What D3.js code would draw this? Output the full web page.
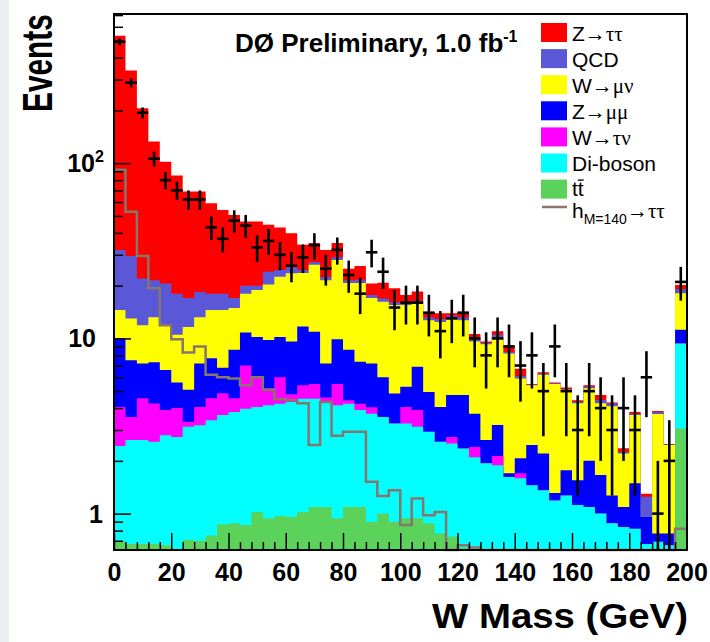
<!DOCTYPE html>
<html>
<head>
<meta charset="utf-8">
<script src="https://cdn.jsdelivr.net/npm/d3@7"></script>
<style>
  body { margin: 0; background: #fff; }
  svg { display: block; font-family: "Liberation Sans", Arial, Helvetica, sans-serif; }
</style>
</head>
<body>
<script>
// 4 GeV bins from 0 to 200, last bin holds the overflow
const binWidth = 4;
const binLow = d3.range(0, 200, binWidth);

// stacked heights as drawn (each one is the top of that colour)
const zttTop = [534, 338, 206, 133, 102, 85, 69, 69, 59, 54,
    50.6, 46.5, 46.5, 44.5, 43, 39.8, 34.2, 35, 31.9, 35,
    25, 25.9, 20.6, 20.8, 19.3, 17.7, 18.5, 14.2, 13.9, 13.9,
    14.2, 10.6, 9.6, 11.0, 9.0, 6.7, 5.5, 6.4, 5.6, 5.25,
    4.44, 5.4, 4.75, 4.3, 2.36, 3.8, 1.3, 3.85, 2.5, 20.2];
const qcdTop = [32, 29.5, 22, 21.5, 20.6, 18, 17, 18.4, 18, 18,
    17, 20, 20, 24, 24.6, 25.5, 24.6, 27.3, 22.4, 29,
    21.5, 21.6, 17.7, 16.9, 16.1, 16.2, 16.4, 13.2, 12.9, 13.5,
    13.2, 10.0, 9.4, 10.5, 8.4, 6.1, 5.45, 6.3, 5.55, 5.15,
    4.35, 5.3, 4.45, 4.25, 2.25, 3.7, 1.25, 3.8, 2.48, 19.1];
const wmuTop = [14.5, 13, 11.9, 13.2, 11.9, 10.5, 11.6, 13.2, 14.5, 14.5,
    14.9, 18, 18.9, 20.3, 22.5, 23.5, 23.6, 26.3, 21.5, 28,
    20.7, 20.7, 17, 16.2, 15.5, 15.5, 15.8, 12.7, 12.4, 13,
    12.7, 9.6, 9.25, 10.2, 8.2, 5.9, 5.4, 6.2, 5.5, 5.1,
    4.27, 5.2, 4.27, 4.1, 2.2, 3.65, 0.96, 3.7, 2.46, 18.1];
const zmmTop = [10, 7.5, 7.2, 7.3, 6.6, 5.6, 5.1, 7.2, 7.7, 6.8,
    8.6, 10.8, 10.2, 9.8, 10.2, 9.6, 11.7, 10.9, 7.2, 9.9,
    8.6, 7.35, 7.2, 6.0, 4.85, 5.3, 6.9, 4.95, 4.06, 4.75,
    4.75, 3.72, 2.63, 3.2, 1.7, 2.07, 2.46, 2.2, 1.31, 1.77,
    1.55, 2.0, 1.66, 1.27, 1.09, 1.49, 0.96, 0.77, 0.77, 11.2];
const wtauTop = [4.06, 3.56, 4.55, 4.25, 3.9, 4.0, 3.34, 4.06, 4.55, 4.86,
    4.55, 7.0, 6.0, 5.2, 6.0, 4.8, 5.4, 5.5, 4.6, 5.5,
    4.44, 4.24, 4.05, 3.56, 3.27, 4.06, 3.9, 2.93, 2.57, 2.74,
    2.35, 2.4, 1.94, 2.13, 1.62, 1.7, 1.45, 1.36, 1.19, 1.27,
    1.12, 1.09, 1.0, 0.88, 0.84, 0.82, 0.67, 0.69, 0.66, 9.35];
const dibosonTop = [2.43, 2.63, 2.63, 2.57, 2.8, 2.74, 3.13, 3.19, 3.41, 3.65,
    3.8, 3.97, 4.06, 4.16, 4.24, 4.33, 4.53, 4.53, 4.33, 4.16,
    4.24, 3.9, 3.72, 3.56, 3.27, 3.27, 3.13, 2.93, 2.57, 2.51,
    2.35, 2.1, 1.94, 1.89, 1.62, 1.59, 1.45, 1.36, 1.19, 1.27,
    1.12, 1.09, 1.0, 0.88, 0.84, 0.82, 0.67, 0.69, 0.66, 9.35];
const ttbarTop = [0.69, 0.67, 0.67, 0.67, 0.66, 0.63, 0.71, 0.70, 0.75, 0.87,
    0.88, 0.86, 1.02, 0.94, 0.97, 0.96, 1.02, 1.09, 1.09, 0.94,
    1.09, 1.09, 0.90, 1.0, 0.90, 0.94, 0.94, 0.88, 0.77, 0.74,
    0.64, 0.6, 0.6, 0.6, 0.6, 0.6, 0.6, 0.6, 0.6, 0.6,
    0.6, 0.6, 0.6, 0.6, 0.6, 0.6, 0.6, 0.6, 0.6, 3.06];

// signal, not stacked
const higgs = [91.6, 52.8, 29.5, 19.3, 11.9, 9.9, 8.3, 9.0, 6.2, 6.0,
    5.9, 5.4, 6.0, 5.1, 4.5, 4.44, 4.27, 2.46, 4.34, 2.78,
    2.93, 2.93, 1.52, 1.26, 1.36, 0.86, 1.22, 0.98, 1.02, 0.62,
    0.66, 0.64, 0.6, 0.5, 0.5, 0.5, 0.5, 0.5, 0.5, 0.5,
    0.5, 0.5, 0.5, 0.5, 0.5, 0.5, 0.5, 0.5, 0.5, 0.82];

// data counts
const dataCounts = [493, 288, 194, 106, 80, 70, 62, 62, 43, 37,
    47, 44, 33, 36, 30, 26, 29, 34, 25, 32,
    23, 18, 31, 24, 15, 16, 16, 14, 11, 13,
    14, 10, 8, 10, 9, 7, 8, 5, 9, 5,
    3, 5, 4, 3, 4, 3, 6, 1, 2, 21];

const xTickLabels = [0, 20, 40, 60, 80, 100, 120, 140, 160, 180, 200];
const yMajorTicks = [1, 10, 100];

const layers = [
    {label: [["Z", 0], ["\u2192\u03c4\u03c4", 1]], color: "#ff0000", top: zttTop},
    {label: [["QCD", 0]], color: "#5b58d8", top: qcdTop},
    {label: [["W", 0], ["\u2192\u03bc\u03bd", 1]], color: "#ffff00", top: wmuTop},
    {label: [["Z", 0], ["\u2192\u03bc\u03bc", 1]], color: "#0000ff", top: zmmTop},
    {label: [["W", 0], ["\u2192\u03c4\u03bd", 1]], color: "#ff00ff", top: wtauTop},
    {label: [["Di-boson", 0]], color: "#00ffff", top: dibosonTop},
    {label: [["tt", 0]], color: "#5bd35b", top: ttbarTop}
];
const higgsColor = "#86766c";

const W = 710, H = 642;
const plot = {left: 114, right: 687, top: 14, bottom: 550};

const svg = d3.select("body").append("svg")
    .attr("width", W)
    .attr("height", H);

svg.append("rect").attr("width", W).attr("height", H).attr("fill", "#fff");
svg.append("rect").attr("width", 9).attr("height", H).attr("fill", "#eceef1");

const x = d3.scaleLinear().domain([0, 200]).range([plot.left, plot.right - 0.5]);
const y = d3.scaleLog().domain([0.62, 710]).range([plot.bottom, plot.top]).clamp(true);

// step points: one per bin edge, last edge repeats last value
function steps(vals) {
    const pts = binLow.map((lo, i) => [lo, vals[i]]);
    pts.push([200, vals[vals.length - 1]]);
    return pts;
}

const area = d3.area()
    .x(d => x(d[0]))
    .y0(plot.bottom)
    .y1(d => y(d[1]))
    .curve(d3.curveStepAfter);

svg.append("g")
    .selectAll("path")
    .data(layers)
    .enter()
    .append("path")
    .attr("d", d => area(steps(d.top)))
    .attr("fill", d => d.color);

// higgs line
const line = d3.line()
    .x(d => x(d[0]))
    .y(d => y(d[1]))
    .curve(d3.curveStepAfter);

svg.append("path")
    .attr("d", line(steps(higgs)))
    .attr("fill", "none")
    .attr("stroke", higgsColor)
    .attr("stroke-width", 2.5);

// data with poisson errors
const dataG = svg.append("g")
    .attr("stroke", "#000")
    .attr("stroke-width", 2.6);

dataCounts.forEach((n, i) => {
    const xc = x(binLow[i] + binWidth / 2);
    const err = Math.sqrt(n);
    dataG.append("line")
        .attr("x1", xc).attr("x2", xc)
        .attr("y1", y(n + err)).attr("y2", y(Math.max(n - err, 1e-3)));
    dataG.append("line")
        .attr("x1", x(binLow[i])).attr("x2", x(binLow[i] + binWidth))
        .attr("y1", y(n)).attr("y2", y(n));
});

// axes: ticks point inwards
const yMinor = y.ticks().filter(t => yMajorTicks.indexOf(t) < 0);
svg.append("g")
    .attr("transform", "translate(" + plot.left + ",0)")
    .call(d3.axisRight(y).tickValues(yMinor).tickSize(9).tickFormat(""))
    .call(g => g.select(".domain").remove())
    .selectAll("line").attr("stroke-width", 1.5);
svg.append("g")
    .attr("transform", "translate(" + plot.left + ",0)")
    .call(d3.axisRight(y).tickValues(yMajorTicks).tickSize(17).tickFormat(""))
    .call(g => g.select(".domain").remove())
    .selectAll("line").attr("stroke-width", 1.5);

const xMinor = d3.range(0, 201, 4).filter(t => t % 20 !== 0);
svg.append("g")
    .attr("transform", "translate(0," + plot.bottom + ")")
    .call(d3.axisTop(x).tickValues(xMinor).tickSize(8).tickFormat(""))
    .call(g => g.select(".domain").remove())
    .selectAll("line").attr("stroke-width", 1.5);
svg.append("g")
    .attr("transform", "translate(0," + plot.bottom + ")")
    .call(d3.axisTop(x).tickValues(xTickLabels).tickSize(17).tickFormat(""))
    .call(g => g.select(".domain").remove())
    .selectAll("line").attr("stroke-width", 1.5);

// x tick labels
const xLab = svg.append("g")
    .attr("transform", "translate(0," + plot.bottom + ")")
    .call(d3.axisBottom(x).tickValues(xTickLabels).tickSize(0).tickPadding(13));
xLab.select(".domain").remove();
xLab.selectAll("text")
    .attr("font-family", "Liberation Sans, Arial, sans-serif")
    .attr("font-size", 25)
    .attr("font-weight", "bold")
    .attr("fill", "#000");

// y tick labels
const yLab = svg.append("g")
    .attr("font-size", 25)
    .attr("font-weight", "bold");
yMajorTicks.forEach(v => {
    const p = Math.round(Math.log10(v));
    const t = yLab.append("text")
        .attr("x", p === 1 ? 96 : (p === 0 ? 103 : 95))
        .attr("y", y(v) + 9)
        .attr("text-anchor", "end");
    if (p < 2) {
        t.text(String(v));
    } else {
        t.attr("x", 95).text("10");
        yLab.append("text")
            .attr("x", 95)
            .attr("y", y(v) - 1)
            .attr("font-size", 16)
            .text(String(p));
    }
});

// frame
svg.append("rect")
    .attr("x", plot.left).attr("y", plot.top)
    .attr("width", plot.right - plot.left)
    .attr("height", plot.bottom - plot.top)
    .attr("fill", "none")
    .attr("stroke", "#000")
    .attr("stroke-width", 2);

// axis titles
svg.append("text")
    .attr("x", 432).attr("y", 628)
    .attr("font-size", 35)
    .attr("font-weight", "bold")
    .attr("textLength", 256)
    .attr("lengthAdjust", "spacingAndGlyphs")
    .text("W Mass (GeV)");

// condensed along its length like the original
svg.append("text")
    .attr("transform", "translate(52,112) rotate(-90) scale(0.71,1)")
    .attr("font-size", 42)
    .attr("font-weight", "bold")
    .text("Events");

// experiment label
const title = svg.append("text")
    .attr("x", 235).attr("y", 52)
    .attr("font-size", 26)
    .attr("font-weight", "bold");
title.append("tspan").text("D\u00d8 Preliminary, 1.0 fb");
title.append("tspan").attr("dy", -10).attr("font-size", 16).text("-1");

// legend
const leg = svg.append("g").attr("font-size", 21);
layers.forEach((d, i) => {
    const cy = 32.5 + i * 26.1;
    leg.append("rect")
        .attr("x", 541).attr("y", cy - 9.5)
        .attr("width", 26).attr("height", 19)
        .attr("fill", d.color);
    const t = leg.append("text")
        .attr("x", 572)
        .attr("y", i === 6 ? cy + 7 : cy + 8);
    d.label.forEach(s => {
        const sp = t.append("tspan").text(s[0]);
        if (s[1]) sp.attr("font-family", "Liberation Serif, DejaVu Serif, serif");
    });
    if (i === 6) {
        // bar over the second t
        const tw = t.node().getComputedTextLength() / 2;
        leg.append("line")
            .attr("x1", 572 + tw).attr("x2", 572 + 2 * tw)
            .attr("y1", cy - 9).attr("y2", cy - 9)
            .attr("stroke", "#000").attr("stroke-width", 1.3);
    }
});
leg.append("line")
    .attr("x1", 542).attr("x2", 567)
    .attr("y1", 207).attr("y2", 207)
    .attr("stroke", higgsColor)
    .attr("stroke-width", 2.5);
const ht = leg.append("text").attr("x", 572).attr("y", 218);
ht.append("tspan").text("h");
ht.append("tspan").attr("dy", 6).attr("font-size", 14).text("M=140");
ht.append("tspan").attr("dy", -6)
    .attr("font-family", "Liberation Serif, DejaVu Serif, serif")
    .text("\u2192\u03c4\u03c4");
</script>
</body>
</html>
